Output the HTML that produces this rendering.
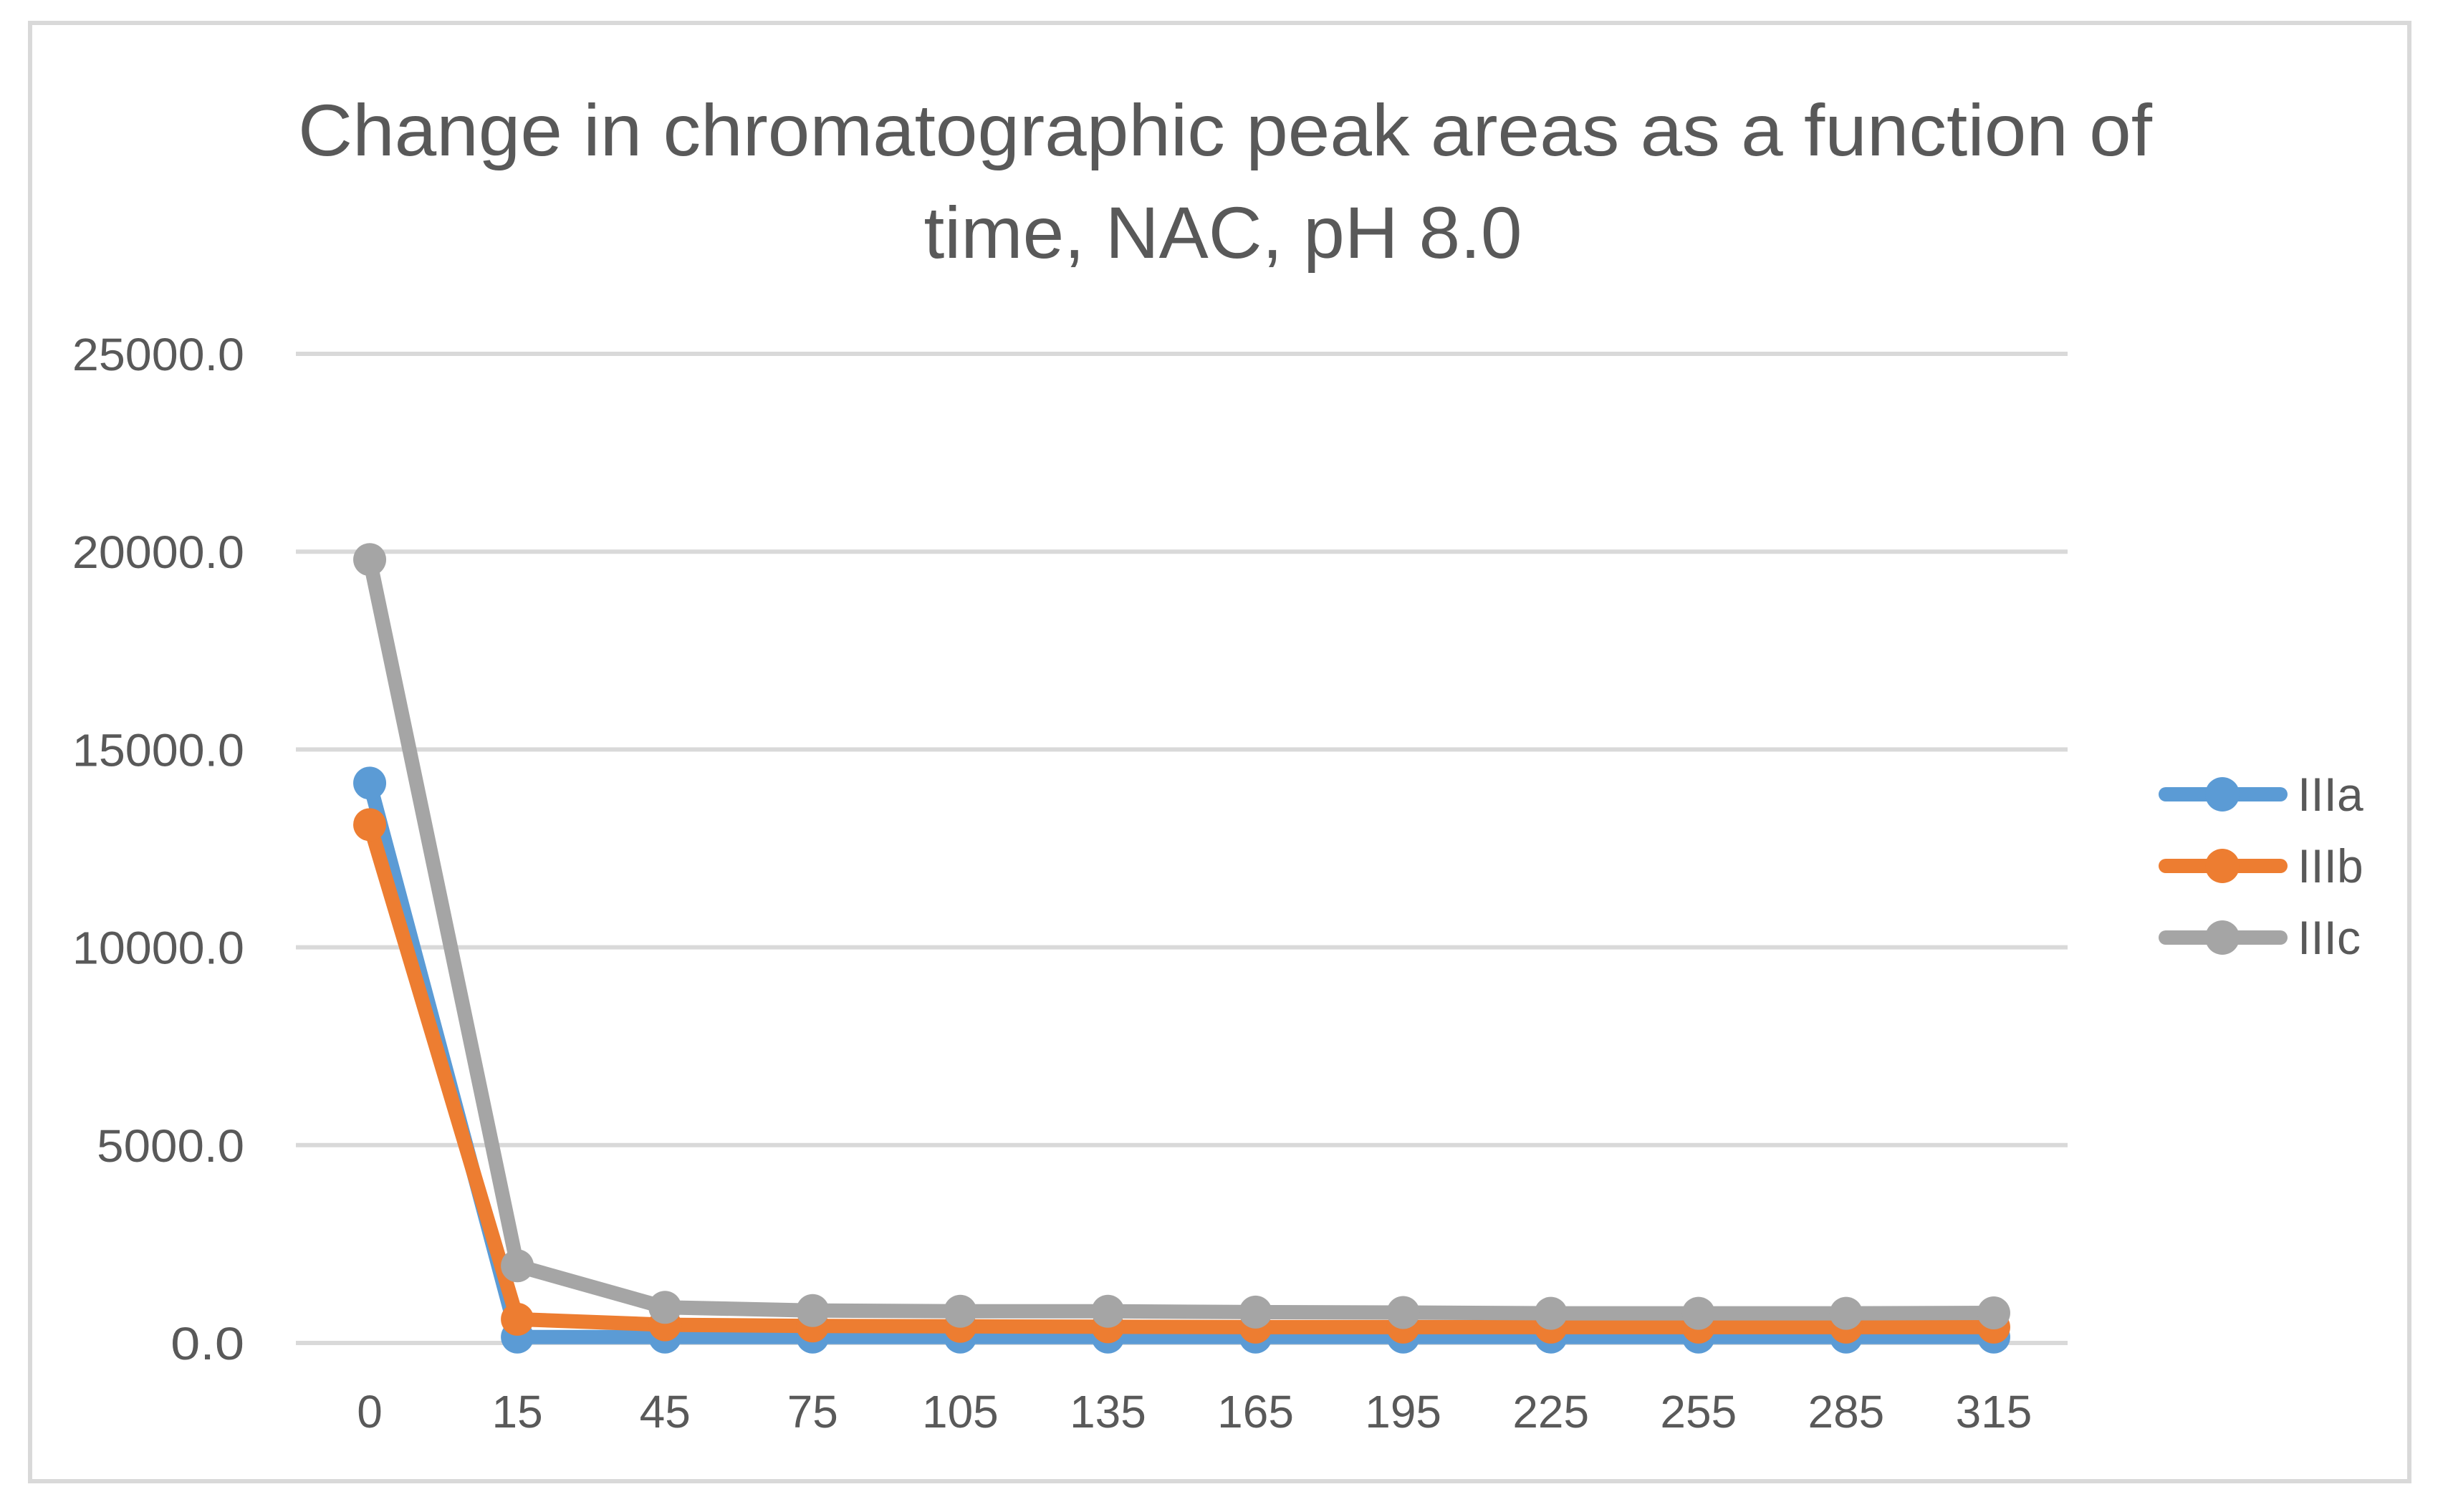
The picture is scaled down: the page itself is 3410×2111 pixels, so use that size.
<!DOCTYPE html>
<html><head><meta charset="utf-8"><style>
html,body{margin:0;padding:0;background:#fff;}
svg text{font-family:"Liberation Sans",sans-serif;fill:#595959;}
</style></head><body>
<svg id="chart" width="3410" height="2106" viewBox="0 0 3410 2106" xmlns="http://www.w3.org/2000/svg">
<rect x="42" y="32" width="3321" height="2036" fill="#fff" stroke="#D9D9D9" stroke-width="6"/>
<text x="1710" y="217" font-size="102" text-anchor="middle" textLength="2588" lengthAdjust="spacingAndGlyphs">Change in chromatographic peak areas as a function of</text>
<text x="1707" y="360" font-size="102" text-anchor="middle" textLength="835" lengthAdjust="spacingAndGlyphs">time, NAC, pH 8.0</text>
<g id="grid"></g><g id="yticks"></g><g id="xticks"></g><g id="series"></g><g id="legend"></g>
</svg>
<script>
const categories = ["0","15","45","75","105","135","165","195","225","255","285","315"];
const seriesNames = ["IIIa","IIIb","IIIc"];
const seriesIIIa = [14150,150,150,150,150,150,150,150,150,150,150,150];
const seriesIIIb = [13100,600,460,430,420,410,400,400,400,400,400,400];
const seriesIIIc = [19800,1950,900,820,800,800,780,770,750,750,750,760];
const yTicks = [0,5000,10000,15000,20000,25000];
const colors = ["#5B9BD5","#ED7D31","#A5A5A5"];
const NS="http://www.w3.org/2000/svg";
const X0=413,X1=2886,Y0=1875,Y1=494,YMAX=25000;
const bw=(X1-X0)/categories.length;
function xs(i){return X0+bw*(i+0.5);}
function ys(v){return Y0-(v/YMAX)*(Y0-Y1);}
function mk(tag,attrs,parent){const e=document.createElementNS(NS,tag);for(const k in attrs)e.setAttribute(k,attrs[k]);parent.appendChild(e);return e;}
const grid=document.getElementById('grid'),yt=document.getElementById('yticks'),xt=document.getElementById('xticks'),sg=document.getElementById('series'),lg=document.getElementById('legend');
yTicks.forEach(v=>{
  const l=mk('line',{x1:X0,x2:X1,y1:ys(v),y2:ys(v),stroke:'#D9D9D9','stroke-width':6},grid);
  
  
  const label=v.toFixed(1);
  const t=mk('text',{x:341,y:ys(v)+23,'font-size':64,'text-anchor':'end',textLength:label.length*34.3,lengthAdjust:'spacingAndGlyphs'},yt);
  t.textContent=label;
  
  
});
categories.forEach((c,i)=>{
  const t=mk('text',{x:xs(i),y:1993,'font-size':64,'text-anchor':'middle'},xt);
  t.textContent=c;
  
  
});
[seriesIIIa,seriesIIIb,seriesIIIc].forEach((vals,s)=>{
  const g=mk('g',{},sg);
  
  
  const p=mk('polyline',{points:vals.map((v,i)=>xs(i)+','+ys(v)).join(' '),fill:'none',stroke:colors[s],'stroke-width':20,'stroke-linejoin':'round','stroke-linecap':'round'},g);
  
  
  vals.forEach((v,i)=>{
    const c=mk('circle',{cx:xs(i),cy:ys(v),r:23,fill:colors[s]},g);
    
    
  });
  const ly=1109+s*100;
  const le=mk('g',{},lg);
  
  
  mk('line',{x1:3023,x2:3183,y1:ly,y2:ly,stroke:colors[s],'stroke-width':20,'stroke-linecap':'round'},le);
  mk('circle',{cx:3102,cy:ly,r:24,fill:colors[s]},le);
  const t=mk('text',{x:3207,y:ly+23,'font-size':66},le);
  t.textContent=seriesNames[s];
});
</script>
</body></html>
